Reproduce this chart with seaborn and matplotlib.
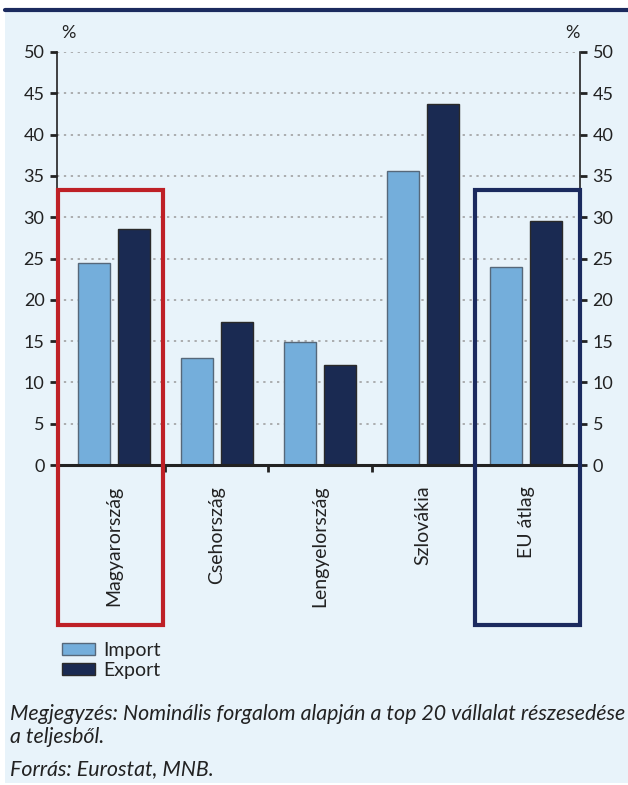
import matplotlib
matplotlib.use("Agg")
import matplotlib.pyplot as plt
import matplotlib.patches as mpatches
from matplotlib.lines import Line2D
import seaborn as sns
import pandas as pd

categories = ["Magyarország", "Csehország", "Lengyelország", "Szlovákia", "EU átlag"]
import_vals = [24.5, 12.9, 14.9, 35.6, 24.0]
export_vals = [28.6, 17.3, 12.1, 43.7, 29.6]
series_names = ["Import", "Export"]
y_ticks = [0, 5, 10, 15, 20, 25, 30, 35, 40, 45, 50]
note_text = "Megjegyzés: Nominális forgalom alapján a top 20 vállalat részesedése\na teljesből."
source_text = "Forrás: Eurostat, MNB."

BG = "#E8F3FA"
C_IMP = "#74AEDB"
C_EXP = "#1A2A52"
NAVY = "#1B2A5E"
RED = "#BE2026"
TXT = "#222222"

sns.set_theme(style="white")
plt.rcParams["font.family"] = ["Lato", "DejaVu Sans"]

df = pd.DataFrame({
    "category": categories * 2,
    "series": [series_names[0]] * len(categories) + [series_names[1]] * len(categories),
    "value": import_vals + export_vals,
})

W, H = 628, 785
fig = plt.figure(figsize=(W / 100, H / 100), dpi=100, facecolor="white")
# light blue panel
fig.add_artist(mpatches.Rectangle((5 / W, 1 - 783 / H), (W - 5) / W, (783 - 10) / H,
                                  facecolor=BG, edgecolor="none", transform=fig.transFigure, zorder=-10))

ax = fig.add_axes([57 / W, 1 - 465 / H, (580 - 57) / W, (465 - 52) / H])
ax.set_facecolor(BG)

sns.barplot(data=df, x="category", y="value", hue="series", order=categories,
            hue_order=series_names, palette=[C_IMP, C_EXP], width=0.775, gap=0.2,
            ax=ax, legend=True, saturation=1)
for cont, ec in zip(ax.containers, ["#56687a", "#2a2a2a"]):
    for bar in cont:
        bar.set_edgecolor(ec)
        bar.set_linewidth(1.0)

ax.set_xlim(-0.55, len(categories) - 0.48)
ax.set_ylim(0, 50)
ax.set_yticks(y_ticks)
ax.set_yticklabels([str(t) for t in y_ticks])
ax.set_xlabel("")
ax.set_ylabel("")
ax.yaxis.grid(True, linestyle=(0, (1.5, 3)), color="#9a9a9a", linewidth=1.1)
ax.set_axisbelow(True)
for s in ["top", "right"]:
    ax.spines[s].set_visible(False)
ax.spines["left"].set_color(TXT)
ax.spines["left"].set_linewidth(1.2)
ax.spines["bottom"].set_color(TXT)
ax.spines["bottom"].set_linewidth(2.2)
ax.spines["bottom"].set_zorder(5)

ax.tick_params(axis="y", which="major", direction="out", length=5, width=2,
               color=TXT, labelsize=13, labelcolor=TXT, pad=4, left=True)
ax.set_xticks(range(len(categories)))
ax.set_xticklabels(categories, rotation=90, va="top", ha="center")
ax.tick_params(axis="x", which="major", length=0, labelsize=14, labelcolor=TXT, pad=15)
ax.set_xticks([i + 0.5 for i in range(len(categories) - 1)], minor=True)
ax.tick_params(axis="x", which="minor", direction="out", length=5, width=2, color=TXT, bottom=True)

ax2 = ax.twinx()
ax2.set_ylim(0, 50)
ax2.set_yticks(y_ticks)
ax2.set_yticklabels([str(t) for t in y_ticks])
for s in ["top", "left", "bottom"]:
    ax2.spines[s].set_visible(False)
ax2.spines["right"].set_color(TXT)
ax2.spines["right"].set_linewidth(1.2)
ax2.tick_params(axis="y", direction="out", length=5, width=2, color=TXT,
                labelsize=13, labelcolor=TXT, pad=4, right=True)
ax2.grid(False)

fig.text(68 / W, 1 - 33 / H, "%", fontsize=13, color=TXT, ha="center", va="center")
fig.text(572 / W, 1 - 33 / H, "%", fontsize=13, color=TXT, ha="center", va="center")

# top rule
fig.add_artist(Line2D([5 / W, 1], [1 - 10 / H, 1 - 10 / H], color=NAVY, linewidth=3,
                      transform=fig.transFigure))

# highlight boxes
fig.add_artist(mpatches.Rectangle((58 / W, 1 - 625 / H), (163 - 58) / W, (625 - 190) / H,
                                  fill=False, edgecolor=RED, linewidth=3, transform=fig.transFigure, zorder=10))
fig.add_artist(mpatches.Rectangle((475 / W, 1 - 625 / H), (580 - 475) / W, (625 - 190) / H,
                                  fill=False, edgecolor=NAVY, linewidth=3, transform=fig.transFigure, zorder=10))

# legend
handles, labels = ax.get_legend_handles_labels()
if ax.get_legend() is not None:
    ax.get_legend().remove()
for h, ec in zip(handles, ["#56687a", "#2a2a2a"]):
    h.set_edgecolor(ec)
fig.legend(handles, labels, loc="upper left", bbox_to_anchor=(62 / W, 1 - 642 / H),
           bbox_transform=fig.transFigure, frameon=False, fontsize=14,
           handlelength=1.7, handleheight=0.62, handletextpad=0.4, labelspacing=0.15,
           borderaxespad=0, borderpad=0, labelcolor=TXT)

fig.text(10 / W, 1 - 704 / H, note_text, fontsize=15.4, style="italic", color=TXT,
         ha="left", va="top", linespacing=1.2)
fig.text(10 / W, 1 - 769 / H, source_text, fontsize=15.4, style="italic", color=TXT,
         ha="left", va="center")

fig.savefig("out.png", dpi=100, facecolor="white")
